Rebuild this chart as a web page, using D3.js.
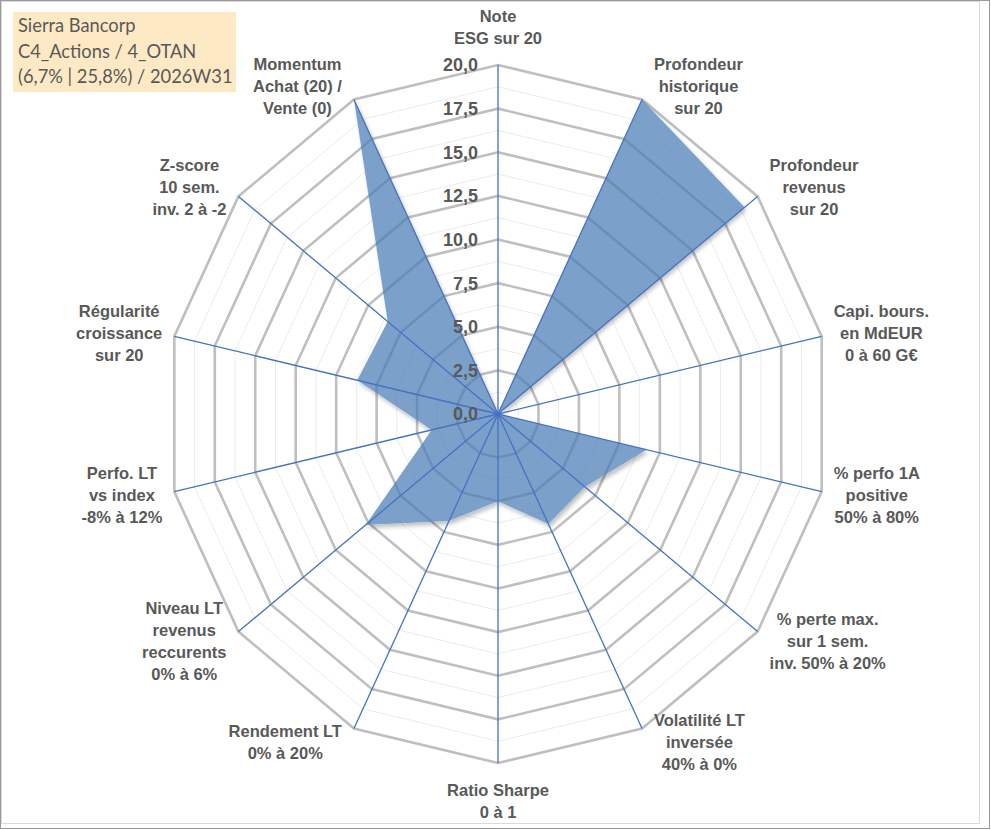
<!DOCTYPE html>
<html>
<head>
<meta charset="utf-8">
<script src="https://cdn.jsdelivr.net/npm/d3@7/dist/d3.min.js"></script>
<style>
  body { margin: 0; background: #fff; }
  svg { display: block; }
</style>
</head>
<body>
<div id="chart"></div>
<script>
"use strict"

/* data */
const titleLines = ["Sierra Bancorp", "C4_Actions / 4_OTAN", "(6,7% | 25,8%) / 2026W31"];

const axisLabels = [
    ["Note", "ESG sur 20"],
    ["Profondeur", "historique", "sur 20"],
    ["Profondeur", "revenus", "sur 20"],
    ["Capi. bours.", "en MdEUR", "0 à 60 G€"],
    ["% perfo 1A", "positive", "50% à 80%"],
    ["% perte max.", "sur 1 sem.", "inv. 50% à 20%"],
    ["Volatilité LT", "inversée", "40% à 0%"],
    ["Ratio Sharpe", "0 à 1"],
    ["Rendement LT", "0% à 20%"],
    ["Niveau LT", "revenus", "reccurents", "0% à 6%"],
    ["Perfo. LT", "vs index", "-8% à 12%"],
    ["Régularité", "croissance", "sur 20"],
    ["Z-score", "10 sem.", "inv. 2 à -2"],
    ["Momentum", "Achat (20) /", "Vente (0)"]
];

const scores = [0, 20, 19, 0, 9.2, 6.7, 7.0, 5.0, 6.8, 10.2, 4.1, 8.7, 8.5, 20];

const majorTicks = [0, 2.5, 5, 7.5, 10, 12.5, 15, 17.5, 20];
const minorTicks = [1.25, 3.75, 6.25, 8.75, 11.25, 13.75, 16.25, 18.75];

/* canvas */
let drawing = d3.select("#chart")
    .append("svg")
    .attr("width", 991)
    .attr("height", 830);

let frameOuter = drawing.append("rect")
    .attr("x", 0.5).attr("y", 0.5)
    .attr("width", 989).attr("height", 828)
    .attr("fill", "#fff")
    .attr("stroke", "#9a9a9a");

let frameInner = drawing.append("rect")
    .attr("x", 1.5).attr("y", 1.5)
    .attr("width", 978).attr("height", 822)
    .attr("fill", "none")
    .attr("stroke", "#d9d9d9");

/* shadow that only shows outside the shape */
let defs = drawing.append("defs");
let shadow = defs.append("filter").attr("id", "shadow")
    .attr("x", "-10%").attr("y", "-10%").attr("width", "120%").attr("height", "120%");
shadow.append("feGaussianBlur").attr("in", "SourceAlpha").attr("stdDeviation", 2);
shadow.append("feOffset").attr("dx", 1.5).attr("dy", 2.5).attr("result", "blur");
shadow.append("feComposite").attr("in", "blur").attr("in2", "SourceAlpha")
    .attr("operator", "out").attr("result", "outside");
shadow.append("feFlood").attr("flood-color", "#000").attr("flood-opacity", 0.35);
shadow.append("feComposite").attr("in2", "outside").attr("operator", "in").attr("result", "shade");
let merge = shadow.append("feMerge");
merge.append("feMergeNode").attr("in", "shade");
merge.append("feMergeNode").attr("in", "SourceGraphic");

/* scales: the plot area is a bit narrower than tall */
const cx = 498, cy = 414;
const rX = d3.scaleLinear().domain([0, 20]).range([0, 332]);
const rY = d3.scaleLinear().domain([0, 20]).range([0, 349]);
const angle = d3.scaleLinear().domain([0, axisLabels.length]).range([0, 2 * Math.PI]);

const fr = d3.formatLocale({ decimal: ",", thousands: " ", grouping: [3], currency: ["", " €"] });
const tickFormat = fr.format(".1f");

function pointAt(i, v) {
    let a = angle(i);
    return [cx + rX(v) * Math.sin(a), cy - rY(v) * Math.cos(a)];
}

const idx = d3.range(axisLabels.length);
const ring = d3.line().curve(d3.curveLinearClosed);

/* grid rings */
let grid = drawing.append("g");

grid.selectAll(".minor")
    .data(minorTicks)
    .join("path")
    .attr("class", "minor")
    .attr("d", v => ring(idx.map(i => pointAt(i, v))))
    .attr("fill", "none")
    .attr("stroke", "#ececec")
    .attr("stroke-width", 1);

grid.selectAll(".major")
    .data(majorTicks.filter(v => v > 0))
    .join("path")
    .attr("class", "major")
    .attr("d", v => ring(idx.map(i => pointAt(i, v))))
    .attr("fill", "none")
    .attr("stroke", "#bfbfbf")
    .attr("stroke-width", 2.6)
    .attr("stroke-linejoin", "miter");

/* the score shape */
let shape = drawing.append("g").attr("opacity", 0.72);
shape.append("path")
    .attr("d", ring(scores.map((v, i) => pointAt(i, v))))
    .attr("fill", "#4a7db8")
    .attr("filter", "url(#shadow)");

/* spokes */
drawing.append("g")
    .selectAll("line")
    .data(idx)
    .join("line")
    .attr("x1", cx).attr("y1", cy)
    .attr("x2", i => pointAt(i, 20)[0])
    .attr("y2", i => pointAt(i, 20)[1])
    .attr("stroke", "#4472c4")
    .attr("stroke-width", 1.3);

/* value ticks along the top spoke */
drawing.append("g")
    .selectAll("text")
    .data(majorTicks)
    .join("text")
    .attr("x", 478)
    .attr("y", v => cy - rY(v))
    .attr("dy", "0.36em")
    .attr("text-anchor", "end")
    .attr("font-family", "'Liberation Sans', Arial, sans-serif")
    .attr("font-weight", "bold")
    .attr("font-size", 18)
    .attr("fill", "#595959")
    .text(v => tickFormat(v));

/* axis labels placed beside the outer ring */
const lineH = 22;
let labels = drawing.append("g")
    .attr("font-family", "'Liberation Sans', Arial, sans-serif")
    .attr("font-weight", "bold")
    .attr("font-size", 16.5)
    .attr("fill", "#595959")
    .attr("text-anchor", "middle");

axisLabels.forEach((lines, i) => {
    let a = angle(i);
    let [vx, vy] = pointAt(i, 20);
    let t = labels.append("text");
    let spans = lines.map(s => t.append("tspan").text(s));
    let w = d3.max(spans, s => s.node().getComputedTextLength());
    let h = lines.length * lineH;
    let sx, sy;
    if (Math.abs(Math.sin(a)) < 0.1) {
        sx = vx;
        sy = Math.cos(a) > 0 ? vy - 16 - h / 2 : vy + 16 + h / 2;
    } else {
        sx = vx + Math.sign(Math.sin(a)) * (w / 2 + 12);
        sy = vy - Math.cos(a) * 15;
    }
    let top = sy - (lines.length - 1) * lineH / 2;
    spans.forEach((s, k) => s
        .attr("x", sx)
        .attr("y", top + k * lineH)
        .attr("dy", "0.35em"));
});

/* title box */
let titleBox = drawing.append("rect")
    .attr("x", 13).attr("y", 12)
    .attr("width", 223).attr("height", 80)
    .attr("fill", "#fde9c4");

drawing.append("g")
    .selectAll("text")
    .data(titleLines)
    .join("text")
    .attr("x", 18)
    .attr("y", (d, k) => 26 + k * 25.5)
    .attr("dy", "0.35em")
    .attr("font-family", "Lato, 'Liberation Sans', sans-serif")
    .attr("font-size", 18.3)
    .attr("fill", "#595959")
    .text(d => d);
</script>
</body>
</html>
